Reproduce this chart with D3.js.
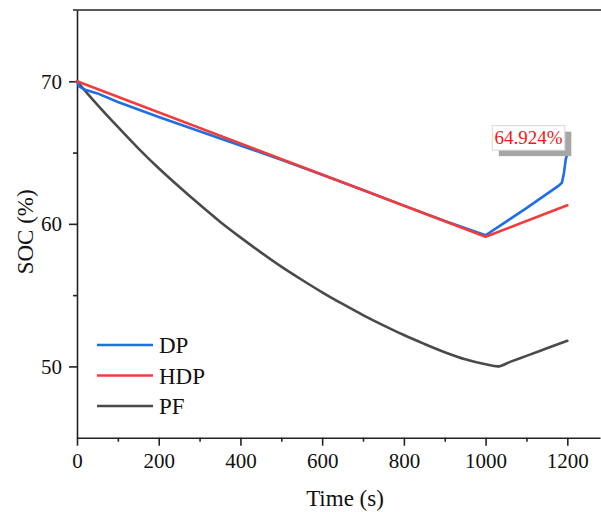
<!DOCTYPE html>
<html>
<head>
<meta charset="utf-8">
<script src="https://cdn.jsdelivr.net/npm/d3@7"></script>
<style>
  body { margin: 0; background: #fff; }
</style>
</head>
<body>
<svg id="chart" width="601" height="512"></svg>
<script>
// datos
const seriesNames = ["DP", "HDP", "PF"];
const seriesColors = ["#1f6ee3", "#f23c3c", "#4a4a4a"];

const dpTime = [0, 5, 20, 50, 100, 200, 300, 400, 500, 600, 700, 800, 900, 1000, 1100, 1180, 1187, 1192, 1196, 1200];
const dpSoc  = [70, 69.65, 69.4, 69.15, 68.55, 67.5, 66.5, 65.5, 64.5, 63.45, 62.37, 61.28, 60.2, 59.2, 61.1, 62.7, 62.9, 63.6, 64.5, 64.924];

const hdpTime = [0, 1000, 1200];
const hdpSoc  = [70, 59.1, 61.3];

const pfTime = [0, 50, 100, 150, 200, 250, 300, 350, 400, 450, 500, 550, 600, 650, 700, 750, 800, 850, 900, 950, 1000, 1030, 1060, 1100, 1150, 1200];
const pfSoc  = [70, 68.35, 66.8, 65.3, 63.9, 62.6, 61.35, 60.15, 59.05, 58.0, 57.0, 56.08, 55.2, 54.38, 53.6, 52.88, 52.2, 51.58, 51.0, 50.5, 50.15, 50.0, 50.32, 50.74, 51.27, 51.8];

const xTicks = [0, 200, 400, 600, 800, 1000, 1200];
const xMinor = [100, 300, 500, 700, 900, 1100];
const yTicks = [50, 60, 70];
const yMinor = [55, 65];

const peakLabel = "64.924%";
const peakPoint = [1200, 64.924];

const serif = "'Liberation Serif', 'Times New Roman', Times, serif";

//////////////////////////////////////////////// escalas
const svg = d3.select("#chart");
const mLeft = 77, mRight = 600, mTop = 10, mBottom = 437.7;

const x = d3.scaleLinear().domain([0, 1280]).range([mLeft, mRight]);
const y = d3.scaleLinear().domain([45, 75]).range([mBottom, mTop]);

//////////////////////////////////////////////// ejes
const axisColor = "#222";

svg.append("g").attr("transform", `translate(0,${mBottom})`)
  .call(d3.axisBottom(x).tickValues(xTicks).tickFormat(d3.format("d")).tickSize(8).tickPadding(7).tickSizeOuter(0));
svg.append("g").attr("transform", `translate(0,${mBottom})`)
  .call(d3.axisBottom(x).tickValues(xMinor).tickSize(4).tickFormat("").tickSizeOuter(0))
  .select(".domain").remove();

svg.append("g").attr("transform", `translate(${mLeft},0)`)
  .call(d3.axisLeft(y).tickValues(yTicks).tickFormat(d3.format("d")).tickSize(8).tickPadding(7).tickSizeOuter(0));
svg.append("g").attr("transform", `translate(${mLeft},0)`)
  .call(d3.axisLeft(y).tickValues(yMinor).tickSize(4).tickFormat("").tickSizeOuter(0))
  .select(".domain").remove();

svg.selectAll("g").attr("font-family", serif);
svg.selectAll(".domain, .tick line").attr("stroke", axisColor).attr("stroke-width", 1.6);
svg.selectAll(".tick text").attr("font-size", 21).attr("fill", "#111");

// linea superior
svg.append("line")
  .attr("x1", mLeft - 4).attr("x2", 601)
  .attr("y1", mTop).attr("y2", mTop)
  .attr("stroke", axisColor).attr("stroke-width", 1.6);

svg.append("text")
  .attr("x", 345).attr("y", 506)
  .attr("text-anchor", "middle").attr("font-size", 23).attr("fill", "#111")
  .attr("font-family", serif)
  .text("Time (s)");

svg.append("text")
  .attr("transform", `translate(33,${(mTop + mBottom) / 2 + 8}) rotate(-90)`)
  .attr("text-anchor", "middle").attr("font-size", 23).attr("fill", "#111")
  .attr("font-family", serif)
  .text("SOC (%)");

//////////////////////////////////////////////// lineas
const lineRecta = d3.line().x(d => x(d[0])).y(d => y(d[1]));
const lineSuave = d3.line().x(d => x(d[0])).y(d => y(d[1])).curve(d3.curveMonotoneX);

const allSeries = [
  d3.zip(dpTime, dpSoc),
  d3.zip(hdpTime, hdpSoc),
  d3.zip(pfTime, pfSoc)
];

// orden de dibujo: PF, DP, HDP (rojo encima)
[2, 0, 1].forEach(function (i) {
  svg.append("path")
    .datum(allSeries[i])
    .attr("fill", "none")
    .attr("stroke", seriesColors[i])
    .attr("stroke-width", 2.6)
    .attr("stroke-linejoin", "round")
    .attr("stroke-linecap", "round")
    .attr("d", i == 2 ? lineSuave : lineRecta);
});

//////////////////////////////////////////////// leyenda
const legend = svg.append("g").attr("font-family", serif);
seriesNames.forEach(function (name, i) {
  const ly = 345 + i * 30.5;
  legend.append("line")
    .attr("x1", 97).attr("x2", 153)
    .attr("y1", ly).attr("y2", ly)
    .attr("stroke", seriesColors[i]).attr("stroke-width", 2.6);
  legend.append("text")
    .attr("x", 159).attr("y", ly + 8)
    .attr("font-size", 23).attr("fill", "#111")
    .text(name);
});

//////////////////////////////////////////////// etiqueta del pico
const px = x(peakPoint[0]), py = y(peakPoint[1]);
const bw = 72.5, bh = 24.5;
svg.append("rect")
  .attr("x", px - bw + 4).attr("y", py - bh + 2.5)
  .attr("width", bw).attr("height", bh)
  .attr("fill", "#a6a6a6");
svg.append("rect")
  .attr("x", px - bw - 2.5).attr("y", py - bh - 3.5)
  .attr("width", bw).attr("height", bh)
  .attr("fill", "#fff").attr("stroke", "#d8d8d8").attr("stroke-width", 1);
svg.append("text")
  .attr("x", px - bw / 2 - 2.5).attr("y", py - 10)
  .attr("text-anchor", "middle").attr("font-size", 19).attr("fill", "#f01818")
  .attr("font-family", serif)
  .text(peakLabel);
</script>
</body>
</html>
